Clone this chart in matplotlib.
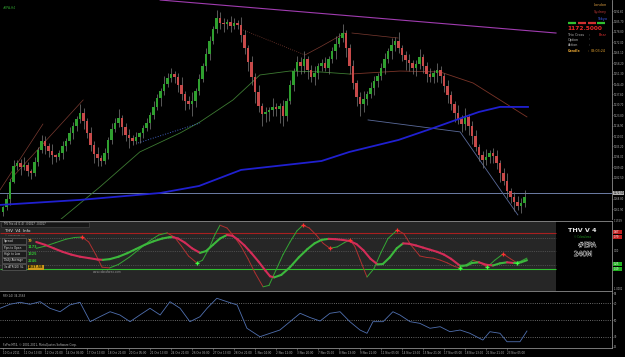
import numpy as np
import matplotlib
matplotlib.use("Agg")
import matplotlib.pyplot as plt
from matplotlib.collections import LineCollection
from matplotlib.patches import Rectangle
import matplotlib.patheffects as pe

# ---------------- data ----------------
# H4 candles: closes, and wick lengths above / below the body
first_open = 1160.0
closes = [1163.0, 1168.5, 1180.0, 1190.5,
          1192.0, 1189.5, 1191.0, 1187.0, 1185.5,
          1193.0, 1201.0, 1207.0,
          1203.5, 1200.0, 1197.5, 1196.0,
          1199.0, 1203.5, 1207.0, 1212.0, 1216.5, 1221.0, 1225.5,
          1220.0, 1212.0, 1204.0, 1198.0, 1195.5, 1193.5,
          1199.0, 1207.5, 1215.0, 1219.0, 1222.0,
          1216.0, 1211.0, 1208.5, 1207.0, 1209.5,
          1212.0, 1215.5, 1219.0, 1224.0, 1229.5, 1235.0, 1240.0, 1244.5, 1248.5, 1251.0,
          1249.0, 1244.0, 1238.0, 1233.5, 1231.0,
          1233.0,
          1240.0, 1248.0, 1256.0, 1264.5, 1273.0, 1281.0, 1288.0,
          1285.0, 1284.0, 1285.5, 1283.0, 1285.0, 1283.5,
          1277.0, 1268.0, 1259.0, 1249.0, 1239.0, 1230.0, 1224.5,
          1226.0, 1227.5, 1229.0, 1228.0, 1230.0,
          1223.0,
          1233.0, 1244.0, 1253.0, 1259.0,
          1256.0, 1261.0, 1254.0, 1249.0, 1252.0, 1256.0, 1258.0, 1255.0, 1261.0,
          1266.0, 1271.0, 1275.0, 1278.0,
          1268.0, 1256.0, 1245.0, 1236.0, 1231.0,
          1234.5, 1238.0, 1242.0, 1246.5, 1250.0, 1255.0, 1261.0, 1266.0, 1270.0, 1272.5,
          1268.0, 1263.5, 1260.0, 1258.0, 1255.0, 1257.5, 1262.5, 1256.0, 1251.0,
          1249.0, 1252.0, 1253.5, 1250.0,
          1243.0, 1237.0, 1231.0, 1225.5, 1221.0,
          1218.0, 1222.5, 1217.0,
          1210.0, 1203.0, 1197.5, 1194.0,
          1196.5, 1199.0, 1197.0,
          1192.0, 1186.0, 1180.5, 1174.0, 1170.0, 1166.5, 1164.0,
          1166.0, 1169.5]
upper_wick = [1, 3, 2, 4, 2, 3, 5, 2, 1, 3, 2, 4, 3, 2, 5, 1, 2, 3, 2, 4,
              3, 2, 6, 3, 2, 4, 3, 5, 2, 3, 2, 4, 3, 6, 2, 3, 4, 2, 3, 1,
              2, 3, 2, 4, 3, 2, 5, 3, 4, 2, 3, 5, 2, 3, 6, 2, 3, 2, 4, 3,
              2, 5, 4, 3, 2, 4, 3, 2, 5, 3, 2, 4, 3, 5, 2, 3, 2, 6, 3, 2,
              4, 2, 3, 2, 4, 3, 5, 2, 3, 4, 2, 3, 4, 2, 3, 5, 3, 6, 2, 3,
              4, 2, 3, 5, 2, 4, 3, 2, 3, 4, 2, 5, 3, 6, 2, 3, 4, 2, 3, 5,
              2, 3, 4, 2, 5, 3, 2, 4, 3, 2, 5, 3, 6, 2, 3, 4, 2, 3, 5, 2,
              3, 4, 2, 3, 5, 2, 3, 4, 3, 5]
lower_wick = [3, 2, 4, 1, 3, 5, 2, 3, 4, 2, 3, 2, 5, 4, 6, 3, 2, 4, 3, 2,
              4, 3, 2, 5, 3, 4, 6, 5, 3, 2, 4, 3, 2, 3, 5, 4, 6, 3, 2, 4,
              3, 2, 4, 3, 2, 5, 3, 2, 3, 4, 5, 4, 6, 3, 8, 4, 3, 2, 3, 4,
              2, 3, 4, 5, 3, 4, 2, 3, 5, 4, 6, 5, 7, 4, 8, 5, 6, 4, 5, 9,
              6, 3, 2, 4, 3, 5, 4, 6, 3, 5, 4, 3, 2, 4, 3, 5, 2, 3, 6, 5,
              4, 6, 8, 5, 4, 3, 5, 4, 3, 4, 3, 5, 4, 3, 4, 6, 5, 4, 5, 3,
              4, 5, 3, 4, 6, 5, 4, 5, 4, 6, 3, 5, 4, 6, 5, 3, 4, 5, 3, 4,
              5, 4, 6, 3, 5, 4, 6, 3, 5, 3]

# slow moving average (blue) sampled at bar positions
slow_ma_bars = [-0.86, 22, 45, 56, 68, 91, 99, 113, 123, 131, 136, 142, 150]
slow_ma_vals = [1164.6, 1167.9, 1172.5, 1177.1, 1187.7, 1193.6, 1199.6, 1207.5,
                1215.4, 1222.0, 1226.0, 1229.3, 1229.3]
# medium moving average: green part, then brown part
mid_ma_bars = [16.3, 27.7, 39.1, 50.6, 56.3, 65.7, 73.4, 82.0, 90.6, 99.1]
mid_ma_vals = [1154.7, 1176.5, 1199.6, 1212.1, 1219.4, 1233.9, 1250.4, 1253.0, 1252.4, 1251.0]
mid_ma2_bars = [99.1, 113.4, 124.9, 134.3, 142.0, 149.7]
mid_ma2_vals = [1251.0, 1253.0, 1252.4, 1245.1, 1233.9, 1222.7]

# trend lines drawn on the chart (bar, price pairs)
purple_line = ([44.9, 158.0], [1299.9, 1278.1])
brown_lines = [([-0.86, 11.4], [1174.5, 1218.0]),
               ([2.0, 22.9], [1181.1, 1233.9]),
               ([86.3, 90.6, 97.7], [1263.6, 1268.9, 1278.1]),
               ([99.7, 112.9], [1278.1, 1274.8])]
brown_dotted = ([68.6, 86.3], [1280.1, 1263.6])
blue_dotted = ([38.6, 56.3], [1205.5, 1218.7])
grey_blue_line = ([104.3, 130.6, 147.1], [1220.7, 1212.8, 1158.0])
bid_price = 1172.5

price_ticks = [1161.9, 1168.8, 1182.5, 1189.4, 1196.3, 1203.2, 1210.0, 1216.9,
               1223.8, 1230.7, 1237.6, 1244.4, 1251.3, 1258.2, 1265.1, 1272.0,
               1278.8, 1285.7, 1292.6]

# THV trix lines (0..100 panel scale)
thv_slow_bars = [9.5, 12, 14.5, 17, 19.5, 22, 24.5, 27, 28.5, 30.5,
                 33, 35.5, 38, 40.5, 43, 45.5, 47.5, 48.5, 50, 52,
                 54, 56.3, 58, 60, 62, 64, 65.5, 67, 69, 71,
                 73, 75, 76.3, 77.5, 79.5, 82, 84.5, 87, 89, 91,
                 93, 95, 97, 99, 101, 103, 105, 107, 108.5, 110.5,
                 112.5, 114.3, 116, 118, 120, 122, 124, 126, 128, 130.6,
                 132.5, 134, 136, 138, 140, 142, 144, 146, 148, 149.7]
thv_slow_vals = [70, 66, 61, 56, 52, 49, 47, 45, 44.5, 45.5,
                 49, 54, 60, 66, 71, 75, 76.8, 77, 75, 69,
                 61, 54.5, 57, 66, 75, 80, 79, 74, 65, 54,
                 42, 29, 21, 19.5, 23, 34, 48, 60, 68, 73,
                 74.5, 74, 73, 71.5, 67, 58, 46, 38, 38.5, 48,
                 61, 68, 67.5, 65, 62, 59, 56, 52, 46, 36,
                 36.5, 40, 41, 37.5, 36.5, 39.5, 41, 40, 41, 44]
thv_fast_bars = [9.5, 12, 15, 18, 20.5, 22.6, 24.5, 26.5, 28.3, 30.5,
                 33, 36, 39, 42, 44.5, 46.9, 49, 51, 53, 55.4,
                 57, 59, 60.5, 62, 64, 66, 68, 70, 72, 74.3,
                 76, 78, 80, 82, 84, 85.7, 87.5, 89.5, 91.5, 93.4,
                 95.5, 97.5, 99.1, 100.5, 102, 104, 106, 108, 110, 112.6,
                 114.5, 116.5, 119.1, 121, 122.9, 125, 127, 129, 130.6, 132.5,
                 134.3, 136.5, 138.3, 140.5, 142.9, 145, 146.9, 149.7]
thv_fast_vals = [61, 64, 69, 74, 76.5, 77, 70, 52, 34, 33,
                 38, 48, 60, 72, 80, 83, 77, 64, 50, 40,
                 44, 62, 80, 94, 90, 78, 64, 46, 26, 6,
                 8, 30, 52, 70, 86, 94, 90, 80, 68, 61,
                 63, 69, 73, 64, 45, 20, 32, 55, 75, 87,
                 82, 66, 50, 48, 47, 44, 40, 35, 33, 38,
                 44, 40, 34, 44, 53, 46, 40, 47]
sell_marks = [22.6, 85.7, 93.4, 99.1, 112.6, 142.9]
sell_vals = [77, 94, 61, 73, 87, 53]
buy_marks = [55.4, 130.6, 138.3, 146.9]
buy_vals = [40, 33, 34, 40]
thv_red_level, thv_green_level = 82.9, 32.1
thv_dotted_levels = [75.7, 57.1, 37.1]

# RSI(14)
rsi_bars = [-0.86, 2.0, 4.9, 7.7, 10.6, 13.4, 16.3, 19.1, 22.0, 24.9, 27.7, 30.6, 33.4,
            36.3, 39.1, 42.0, 44.9, 47.7, 50.6, 53.4, 56.3, 58.3, 61.1, 64.0, 66.9,
            69.7, 73.4, 76.3, 79.1, 82.0, 84.9, 87.7, 90.6, 93.4, 96.3, 99.1, 102.0,
            104.0, 105.7, 108.6, 111.4, 113.4, 116.3, 119.1, 122.0, 124.9, 127.7,
            130.6, 133.4, 137.1, 139.1, 142.0, 144.0, 147.7, 149.7]
rsi_vals = [64.0, 68.8, 71.2, 68.8, 71.9, 64.0, 59.9, 68.0, 71.2, 48.0, 54.0, 59.9, 56.0,
            48.0, 56.0, 64.0, 56.0, 71.9, 64.0, 48.0, 54.0, 64.0, 76.0, 71.9, 68.0,
            40.1, 30.0, 34.1, 38.0, 48.0, 58.0, 53.0, 48.8, 58.0, 59.9, 48.0, 38.0,
            34.1, 48.0, 48.0, 59.9, 56.0, 48.0, 46.0, 40.1, 42.0, 36.0,
            38.0, 34.1, 26.0, 36.0, 34.1, 24.0, 24.0, 36.8]
rsi_levels = [30, 50, 70]

time_tick_bars = [0, 6, 12, 18, 24, 30, 36, 42, 48, 54, 60, 66, 72, 78, 84, 90, 96,
                  102, 108, 114, 120, 126, 132, 138, 144]
time_labels = ["10 Oct 2011", "11 Oct 13:00", "12 Oct 21:00", "14 Oct 05:00",
               "17 Oct 13:00", "18 Oct 21:00", "20 Oct 05:00", "21 Oct 13:00",
               "24 Oct 21:00", "26 Oct 05:00", "27 Oct 13:00", "28 Oct 21:00",
               "1 Nov 04:00", "2 Nov 12:00", "3 Nov 20:00", "7 Nov 05:00",
               "8 Nov 13:00", "9 Nov 21:00", "11 Nov 05:00", "14 Nov 13:00",
               "15 Nov 21:00", "17 Nov 05:00", "18 Nov 13:00", "21 Nov 21:00",
               "23 Nov 05:00"]

info_rows = ["Spread", "Pips to Open", "High to Low", "Daily Average", "3x ATR(20) SL"]
info_vals = ["79", "1173", "1325", "2246", "3837.58"]
info_cols = ["#e0a020", "#30c030", "#30c030", "#30c030", "#202000"]

# ---------------- layout ----------------
W, H = 625, 357
fig = plt.figure(figsize=(W / 100, H / 100), dpi=100, facecolor="black")
GRID = "#8c8c8c"
TXT = "#b4b4b4"
XLIM = (-0.86, 174.0)


def px_rect(x0, y0, x1, y1):
    return [x0 / W, 1 - y1 / H, (x1 - x0) / W, (y1 - y0) / H]


def setup(a):
    a.set_facecolor("black")
    a.set_xlim(*XLIM)
    for s in a.spines.values():
        s.set_visible(False)
    a.spines["right"].set_visible(True)
    a.spines["right"].set_color(GRID)
    a.spines["right"].set_linewidth(0.6)
    a.set_xticks([])
    a.set_yticks([])


ax = fig.add_axes(px_rect(0, 0, 612, 219))
thv = fig.add_axes(px_rect(0, 221, 612, 291))
rsi = fig.add_axes(px_rect(0, 292, 612, 348))
for a in (ax, thv, rsi):
    setup(a)
for sp in ("top", "bottom"):
    thv.spines[sp].set_visible(True)
    thv.spines[sp].set_color(GRID)
    thv.spines[sp].set_linewidth(0.6)
rsi.spines["bottom"].set_visible(True)
rsi.spines["bottom"].set_color(GRID)
rsi.spines["bottom"].set_linewidth(0.6)

# ---------------- main price window ----------------
ax.set_ylim(1155.3, 1299.9)
c = np.array(closes)
o = np.array([first_open] + closes[:-1])
hi = np.maximum(o, c) + np.array(upper_wick)
lo = np.minimum(o, c) - np.array(lower_wick)
bars = np.arange(len(c))
up = c >= o
body = np.maximum(np.abs(c - o), 0.5)

ax.axhline(bid_price, color="#6d7da6", lw=0.7, zorder=1)
ax.plot(*purple_line, color="#a03cb0", lw=0.8, zorder=1)
ax.plot(mid_ma_bars, mid_ma_vals, color="#3d7a32", lw=0.6, zorder=1)
ax.plot(mid_ma2_bars, mid_ma2_vals, color="#7a3428", lw=0.6, zorder=1)
for xs, ys in brown_lines:
    ax.plot(xs, ys, color="#7a3a30", lw=0.5, zorder=1)
ax.plot(*brown_dotted, color="#7a3a30", lw=0.6, ls=":", zorder=1)
ax.plot(*blue_dotted, color="#4060c0", lw=0.7, ls=":", zorder=1)
ax.plot(*grey_blue_line, color="#5a6a9a", lw=0.6, zorder=1)

ax.vlines(bars, lo, hi, color="#7c7c7c", lw=0.5, zorder=2)
ax.bar(bars[up], body[up], bottom=o[up], width=0.68, color="#2fa02f", lw=0, zorder=3)
ax.bar(bars[~up], body[~up], bottom=c[~up], width=0.68, color="#c84a4a", lw=0, zorder=3)
ax.plot(slow_ma_bars, slow_ma_vals, color="#2020d0", lw=1.3, zorder=4)

ax.yaxis.tick_right()
ax.set_yticks(price_ticks)
ax.set_yticklabels([f"{v:.2f}" for v in price_ticks])
ax.tick_params(axis="y", colors=GRID, labelcolor=TXT, labelsize=1.8, length=1.0,
               width=0.4, pad=0.3)
ax.text(1.002, bid_price, f"{bid_price:.2f}", transform=ax.get_yaxis_transform(),
        fontsize=1.8, color="black", va="center", ha="left",
        bbox=dict(boxstyle="square,pad=0.1", fc="#b0b0b0", ec="none"))

# ---------------- THV window ----------------
thv.set_ylim(0, 100)
thv.axvspan(XLIM[0], 158, color="#262626", lw=0, zorder=0)
thv.hlines(thv_red_level, XLIM[0], 158, color="#a82020", lw=0.8, zorder=1)
thv.hlines(thv_green_level, XLIM[0], 158, color="#30c030", lw=0.8, zorder=1)
thv.hlines(thv_dotted_levels, XLIM[0], 158, color="#707070", lw=0.5, ls=":", zorder=1)


def slope_line(a, xs, ys, up_c, dn_c, lw):
    pts = np.column_stack([xs, ys])
    segs = np.stack([pts[:-1], pts[1:]], axis=1)
    cols = [up_c if y1 > y0 else dn_c for y0, y1 in zip(ys[:-1], ys[1:])]
    a.add_collection(LineCollection(segs, colors=cols, linewidths=lw,
                                    capstyle="round", joinstyle="round", zorder=3))


slope_line(thv, thv_fast_bars, thv_fast_vals, "#34a834", "#b03030", 0.7)
slope_line(thv, thv_slow_bars, thv_slow_vals, "#3cb83c", "#d42c58", 1.5)
thv.plot(sell_marks, sell_vals, "+", color="#ff3030", ms=3, mew=0.9, zorder=4)
thv.plot(buy_marks, buy_vals, "+", color="#40ff40", ms=3, mew=0.9, zorder=4)

# ---------------- RSI window ----------------
rsi.set_ylim(16.5, 83.5)
rsi.hlines(rsi_levels, *XLIM, color="#8a8a8a", lw=0.6, ls=":", zorder=1)
rsi.plot(rsi_bars, rsi_vals, color="#5070b0", lw=0.6, zorder=2)
rsi.yaxis.tick_right()
rsi.set_yticks([18, 30, 50, 70, 82])
rsi.set_yticklabels(["15", "30", "50", "70", "85"])
rsi.tick_params(axis="y", colors=GRID, labelcolor=TXT, labelsize=1.9, length=1.0,
                width=0.4, pad=0.5)
rsi.set_xticks(time_tick_bars)
rsi.set_xticklabels(time_labels, ha="left")
rsi.tick_params(axis="x", colors=GRID, labelcolor=TXT, labelsize=2.0, length=1.5,
                width=0.4, pad=0.6)

# ---------------- text overlays (pixel coordinates) ----------------
ov = fig.add_axes([0, 0, 1, 1])
ov.set_xlim(0, W)
ov.set_ylim(H, 0)
ov.axis("off")
ov.patch.set_alpha(0)


def t(x, y, s, **kw):
    kw.setdefault("fontsize", 2.2)
    kw.setdefault("color", TXT)
    kw.setdefault("va", "center")
    ov.text(x, y, s, **kw)


t(3, 8, "#EPA,H4", color="#30a030", fontsize=2.2)

# session / signal box, top right
t(607, 5, "London", color="#e0a040", ha="right", fontsize=2.5)
t(607, 12, "Sydney", color="#c03838", ha="right", fontsize=2.5)
t(607, 19, "Tokyo", color="#4060ff", ha="right", fontsize=2.5)
for x0, col in zip([568, 578, 588, 597], ["#30c030", "#d03030", "#d03030", "#30c030"]):
    ov.plot([x0, x0 + 7.5], [23, 23], color=col, lw=1.6, solid_capstyle="butt")
t(585, 29, "1172.5000", color="#e82828", ha="center", fontsize=4.2, fontweight="bold")
for y, lab in zip([34.5, 39.5, 44.5], ["Trix Cross", "Option", "Action"]):
    t(568, y, lab, fontsize=2.4)
    t(589, y, ":", fontsize=2.4)
t(599, 34.5, "Bear", color="#e03030", fontsize=2.4)
t(568, 50.5, "Candle", color="#e0a030", fontsize=2.4, fontweight="bold")
t(588, 50.5, ":", color="#e0a030", fontsize=2.4)
t(590.5, 50.5, "03:03:24", color="#e0a030", fontsize=2.4)

# THV info box, left
ov.add_patch(Rectangle((1, 222), 88, 4.5, fc="#161616", ec="#4a4a4a", lw=0.4))
t(3, 224.3, "THV Trix v4 (1.4)  -0.0017  -0.0017", fontsize=1.8, color="#c8c8c8")
t(5, 231, "THV  V4  Info", color="#e8e8e8", fontsize=2.8)
t(5, 235.5, "\u00a9 Cobraforex 4.0", color="#909090", fontsize=1.6)
for k, (lab, val, col) in enumerate(zip(info_rows, info_vals, info_cols)):
    yc = 241 + k * 6.5
    ov.add_patch(Rectangle((2, yc - 2.6), 24, 5.2, fc="#1c1c1c", ec="#6a6a6a", lw=0.4))
    t(3.5, yc, lab, color="#d8d8d8", fontsize=2.0)
    if k == len(info_rows) - 1:
        t(28, yc, val, color=col, fontsize=2.4, fontweight="bold",
          bbox=dict(boxstyle="square,pad=0.15", fc="#d09a1a", ec="none"))
    else:
        t(28, yc, val, color=col, fontsize=2.4, fontweight="bold")
t(93, 272, "www.cobraforex.com", color="#9a9a9a", fontsize=2.0)

# THV badge, right
t(582, 230, "THV V 4", color="#e8e8e8", ha="center", fontsize=4.6, fontweight="bold")
t(582, 236.5, "\u00a9 Cobraforex", color="#20a020", ha="center", fontsize=1.8)
outline = [pe.withStroke(linewidth=0.6, foreground="#e0e0e0")]
t(587, 245, "#EPA", color="black", ha="center", fontsize=4.8, path_effects=outline)
t(583, 254, "240M", color="black", ha="center", fontsize=4.8, path_effects=outline)

# THV right scale
t(613.5, 221.5, "1.1559", fontsize=1.8)
t(613.5, 250.5, "0.00", fontsize=1.8)
t(613.5, 288.5, "-1.0002", fontsize=1.8)
for y, lab in zip([232, 237], ["0.87", "0.79"]):
    ov.add_patch(Rectangle((613, y - 2), 8.5, 4, fc="#c02020", ec="none"))
    t(614, y, lab, color="white", fontsize=1.8)
for y, lab in zip([264, 269], ["0.25", "0.19"]):
    ov.add_patch(Rectangle((613, y - 2), 8.5, 4, fc="#20b020", ec="none"))
    t(614, y, lab, color="white", fontsize=1.8)

# RSI title and terminal footer
t(3, 296, "RSI(14) 34.2563", fontsize=2.0)
t(3, 345, "FxPro MT4, \u00a9 2001-2011, MetaQuotes Software Corp.", fontsize=2.0)

fig.savefig("out.png", dpi=100, facecolor="black")
